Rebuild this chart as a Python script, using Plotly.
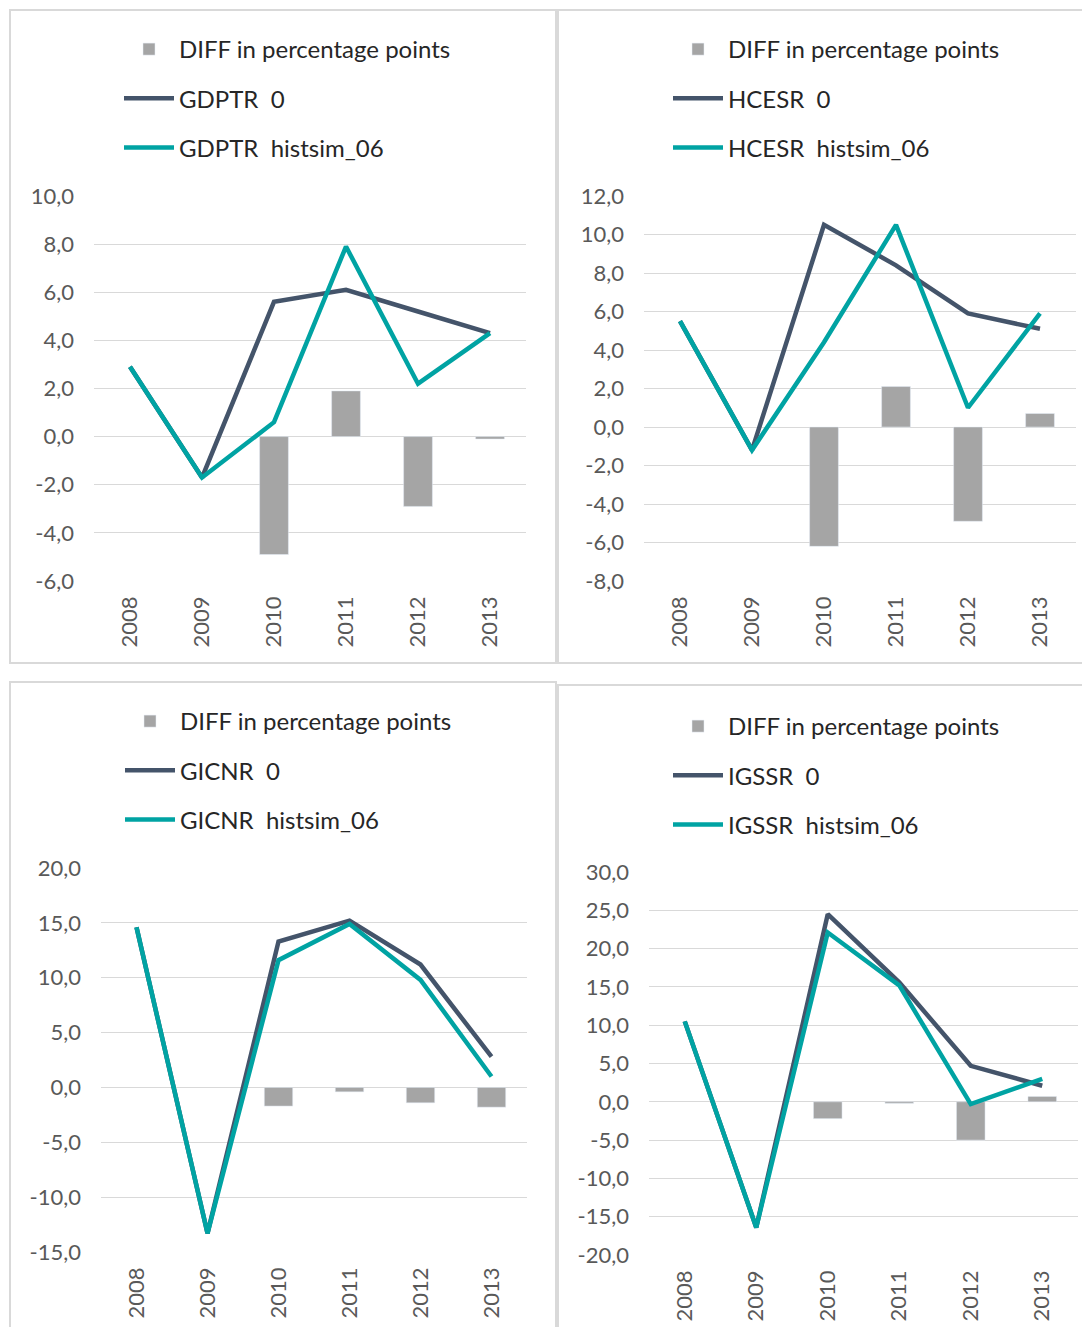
import plotly.graph_objects as go

years = ["2008", "2009", "2010", "2011", "2012", "2013"]

# GDPTR panel
gdptr_base = [2.9, -1.7, 5.6, 6.1, 5.2, 4.3]
gdptr_sim = [2.9, -1.7, 0.6, 7.9, 2.2, 4.3]
gdptr_diff = [None, None, -4.9, 1.9, -2.9, -0.1]
gdptr_tickvals = [-6, -4, -2, 0, 2, 4, 6, 8, 10]
gdptr_ticktext = ["-6,0", "-4,0", "-2,0", "0,0", "2,0", "4,0", "6,0", "8,0", "10,0"]

# HCESR panel
hcesr_base = [5.5, -1.2, 10.5, 8.4, 5.9, 5.1]
hcesr_sim = [5.5, -1.2, 4.4, 10.5, 1.0, 5.9]
hcesr_diff = [None, None, -6.2, 2.1, -4.9, 0.7]
hcesr_tickvals = [-8, -6, -4, -2, 0, 2, 4, 6, 8, 10, 12]
hcesr_ticktext = ["-8,0", "-6,0", "-4,0", "-2,0", "0,0", "2,0", "4,0", "6,0", "8,0", "10,0", "12,0"]

# GICNR panel
gicnr_base = [14.6, -13.3, 13.3, 15.2, 11.2, 2.8]
gicnr_sim = [14.6, -13.3, 11.6, 14.9, 9.8, 1.0]
gicnr_diff = [None, None, -1.7, -0.4, -1.4, -1.8]
gicnr_tickvals = [-15, -10, -5, 0, 5, 10, 15, 20]
gicnr_ticktext = ["-15,0", "-10,0", "-5,0", "0,0", "5,0", "10,0", "15,0", "20,0"]

# IGSSR panel
igssr_base = [10.5, -16.4, 24.5, 15.6, 4.7, 2.1]
igssr_sim = [10.5, -16.4, 22.1, 15.2, -0.3, 3.0]
igssr_diff = [None, None, -2.2, -0.2, -5.0, 0.7]
igssr_tickvals = [-20, -15, -10, -5, 0, 5, 10, 15, 20, 25, 30]
igssr_ticktext = ["-20,0", "-15,0", "-10,0", "-5,0", "0,0", "5,0", "10,0", "15,0", "20,0", "25,0", "30,0"]

OFF = 8  # default page body margin
W, H = 1090 - OFF, 1327 - OFF
BAR_C = "#a5a5a5"
BASE_C = "#44546a"
SIM_C = "#00a3a3"
GRID_C = "#d9d9d9"
TICK_C = "#595959"
FONT = "Lato"
ITEMW = 50


def px(x):
    return (x - OFF) / W


def py(y):
    return 1 - (y - OFF) / H


panels = [
    dict(name="GDPTR", base=gdptr_base, sim=gdptr_sim, diff=gdptr_diff,
         tv=gdptr_tickvals, tt=gdptr_ticktext, rng=[-6, 10],
         xd=[94, 526], yd=[196, 581], leg=(179, 49)),
    dict(name="HCESR", base=hcesr_base, sim=hcesr_sim, diff=hcesr_diff,
         tv=hcesr_tickvals, tt=hcesr_ticktext, rng=[-8, 12],
         xd=[644, 1076], yd=[196, 581], leg=(728, 49)),
    dict(name="GICNR", base=gicnr_base, sim=gicnr_sim, diff=gicnr_diff,
         tv=gicnr_tickvals, tt=gicnr_ticktext, rng=[-15, 20],
         xd=[101, 527], yd=[868, 1252], leg=(180, 721)),
    dict(name="IGSSR", base=igssr_base, sim=igssr_sim, diff=igssr_diff,
         tv=igssr_tickvals, tt=igssr_ticktext, rng=[-20, 30],
         xd=[649, 1078], yd=[872, 1255], leg=(728, 726)),
]

fig = go.Figure()
layout = dict(
    width=W, height=H,
    margin=dict(l=0, r=0, t=0, b=0, autoexpand=False),
    paper_bgcolor="white", plot_bgcolor="white",
    showlegend=True,
    bargap=0.6,
    font=dict(family=FONT, color=TICK_C),
)

for i, p in enumerate(panels):
    n = "" if i == 0 else str(i + 1)
    xa, ya = "x" + n, "y" + n
    lg = "legend" + n
    fig.add_trace(go.Bar(x=years, y=p["diff"], marker_color=BAR_C, name="DIFF in percentage points",
                         xaxis=xa, yaxis=ya, legend=lg, legendgroup=p["name"] + "a"))
    fig.add_trace(go.Scatter(x=years, y=p["base"], mode="lines", line=dict(color=BASE_C, width=4.5),
                             name=p["name"] + "  0", xaxis=xa, yaxis=ya, legend=lg,
                             legendgroup=p["name"] + "b"))
    fig.add_trace(go.Scatter(x=years, y=p["sim"], mode="lines", line=dict(color=SIM_C, width=4.5),
                             name=p["name"] + "  histsim_06", xaxis=xa, yaxis=ya, legend=lg,
                             legendgroup=p["name"] + "c"))
    layout["xaxis" + n] = dict(
        domain=[px(p["xd"][0]), px(p["xd"][1])], anchor=ya, type="category",
        tickangle=-90, showgrid=False, showline=False, zeroline=False, ticks="",
        automargin=False,
        tickfont=dict(size=22, color=TICK_C, family=FONT), ticklabelstandoff=10,
    )
    layout["yaxis" + n] = dict(
        domain=[py(p["yd"][1]), py(p["yd"][0])], anchor=xa, range=p["rng"],
        tickvals=p["tv"], ticktext=p["tt"], showgrid=True, gridcolor=GRID_C, gridwidth=1,
        zeroline=False, showline=False, ticks="", automargin=False,
        tickfont=dict(size=22, color=TICK_C, family=FONT), ticklabelstandoff=19,
    )
    tx, cy = p["leg"]
    layout[lg] = dict(
        x=px(tx - ITEMW - 10), y=py(cy - 22), xanchor="left", yanchor="top",
        font=dict(size=24, color="#262626", family=FONT),
        bgcolor="rgba(0,0,0,0)", tracegroupgap=15, itemwidth=ITEMW,
        traceorder="grouped",
    )

shapes = []
for (x0, y0, x1, y1) in [(10, 10, 556, 663), (558, 10, 1100, 663),
                          (10, 682, 556, 1340), (558, 685, 1100, 1340)]:
    shapes.append(dict(type="rect", xref="paper", yref="paper",
                       x0=px(x0), x1=px(x1), y0=py(y1), y1=py(y0),
                       line=dict(color=GRID_C, width=2), fillcolor="rgba(0,0,0,0)", layer="below"))
layout["shapes"] = shapes

fig.update_layout(**layout)
fig.write_html("out.html")
